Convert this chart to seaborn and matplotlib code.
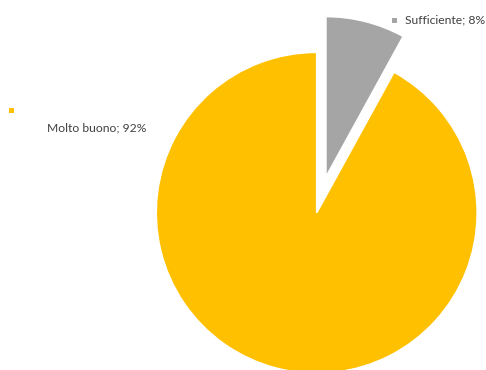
import matplotlib
matplotlib.use("Agg")
import matplotlib.pyplot as plt
from matplotlib.patches import Rectangle
import seaborn as sns

categories = ["Molto buono", "Sufficiente"]
values = [92, 8]
colors = ["#FFC000", "#A5A5A5"]
explode = [0, 0.23]

sns.set_theme(style="white")
plt.rcParams["font.family"] = ["Lato", "DejaVu Sans"]

W, H = 486, 370
fig = plt.figure(figsize=(W / 100, H / 100), dpi=100)
ax = fig.add_axes([0, 0, 1, 1])

# pie centre and radius in pixels
cx, cy, r = 316.7, 212.8, 160.5
ax.pie(values, colors=colors, explode=explode, startangle=90, counterclock=True,
       radius=1, center=(0, 0),
       wedgeprops=dict(edgecolor="white", linewidth=1.2))
ax.set_xlim(-cx / r, (W - cx) / r)
ax.set_ylim(-(H - cy) / r, cy / r)
ax.set_aspect("auto")
ax.axis("off")

text_color = "#404040"
label_pos = {
    "Molto buono": dict(marker=(11, 110), text=(47, 128)),
    "Sufficiente": dict(marker=(394, 20), text=(405, 20)),
}
for cat, val, col in zip(categories, values, colors):
    mx, my = label_pos[cat]["marker"]
    tx, ty = label_pos[cat]["text"]
    fig.add_artist(Rectangle((mx - 2.5, H - my - 2.5), 5, 5, transform=None,
                             facecolor=col, edgecolor="none"))
    fig.text(tx / W, 1 - ty / H, f"{cat}; {val}%", ha="left", va="center",
             fontsize=8.7, color=text_color)

fig.savefig("out.png", dpi=100)
